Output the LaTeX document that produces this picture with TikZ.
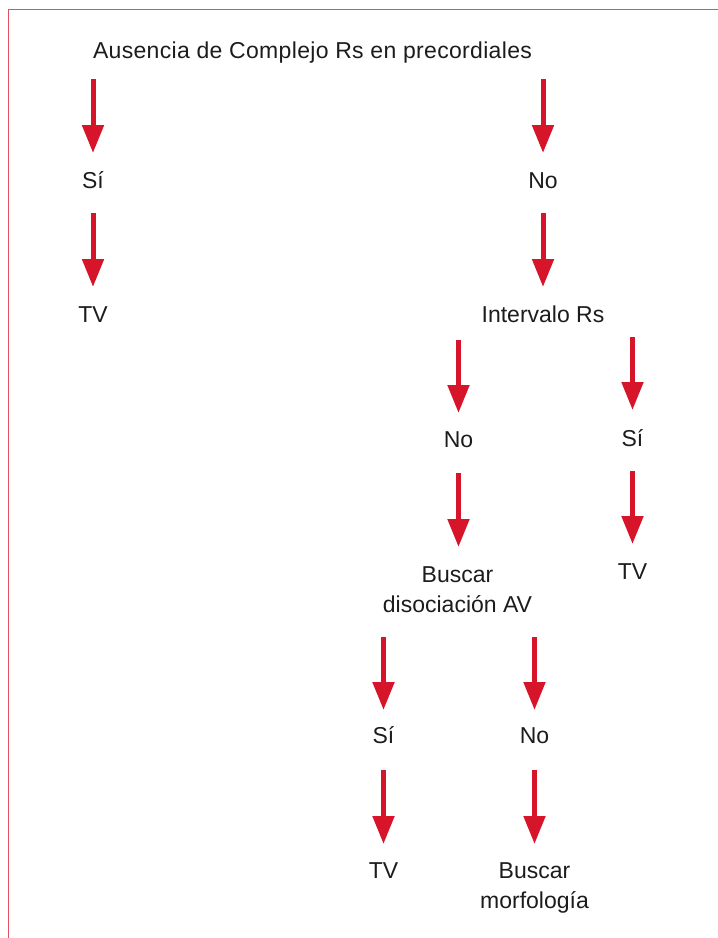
\documentclass[tikz,border=0pt]{standalone}
\usepackage{fontspec}
\setmainfont{Liberation Sans}
\usetikzlibrary{arrows.meta,calc}
\definecolor{arrred}{HTML}{D7152A}
\definecolor{bordred}{HTML}{E05060}
\definecolor{txt}{HTML}{1C1C1C}
\tikzset{
  lbl/.style={inner sep=0pt, text height=16.5pt, text depth=0pt, text=txt,
    font=\fontsize{23pt}{30pt}\selectfont},
  mlbl/.style={inner sep=0pt, align=center, text=txt, anchor=north,
    font=\fontsize{23pt}{30pt}\selectfont},
  arr/.style={draw=arrred, line width=5pt,
    -{Triangle[length=28pt,width=21pt,fill=arrred]}},
}
\begin{document}
\begin{tikzpicture}[x=1pt,y=1pt]
\useasboundingbox (0,0) rectangle (718,-938);
\draw[bordred, line width=1.8pt] (8.5,-938) -- (8.5,-9.5) -- (718,-9.5);

\node[lbl] (title) at (312.5,-50) {\addfontfeature{LetterSpace=1.4}Ausencia de Complejo Rs en precordiales};
\node[lbl] (si1) at (93,-180) {Sí};
\node[lbl] (no1) at (543,-180) {No};
\node[lbl] (tv1) at (93,-314) {TV};
\node[lbl] (int) at (543,-314) {Intervalo Rs};
\node[lbl] (no2) at (458.5,-439) {No};
\node[lbl] (si2) at (632.5,-438) {Sí};
\node[mlbl] (busca) at (457.5,-566) {\rule{0pt}{16.5pt}Buscar\\disociación AV};
\node[lbl] (tv2) at (632.5,-571) {TV};
\node[lbl] (si3) at (383.5,-735) {Sí};
\node[lbl] (no3) at (534.5,-735) {No};
\node[lbl] (tv3) at (383.5,-870) {TV};
\node[mlbl] (morf) at (534.5,-862) {\rule{0pt}{16.5pt}Buscar\\morfología};

\draw[arr] ($(si1 |- title)+(0,-29)$) -- ($(si1)+(0,27)$);
\draw[arr] ($(no1 |- title)+(0,-29)$) -- ($(no1)+(0,27)$);
\draw[arr] ($(si1)+(0,-33)$) -- ($(tv1)+(0,27)$);
\draw[arr] ($(no1)+(0,-33)$) -- ($(int)+(0,27)$);
\draw[arr] ($(no2 |- int)+(0,-26)$) -- ($(no2)+(0,26)$);
\draw[arr] ($(si2 |- int)+(0,-23)$) -- ($(si2)+(0,28)$);
\draw[arr] ($(no2)+(0,-34)$) -- ($(no2 |- busca.north)+(0,19)$);
\draw[arr] ($(si2)+(0,-33)$) -- ($(tv2)+(0,27)$);
\draw[arr] ($(si3 |- busca.south)+(0,-24)$) -- ($(si3)+(0,25)$);
\draw[arr] ($(no3 |- busca.south)+(0,-24)$) -- ($(no3)+(0,25)$);
\draw[arr] ($(si3)+(0,-35)$) -- ($(tv3)+(0,26)$);
\draw[arr] ($(no3)+(0,-35)$) -- ($(morf.north)+(0,18)$);
\end{tikzpicture}
\end{document}
